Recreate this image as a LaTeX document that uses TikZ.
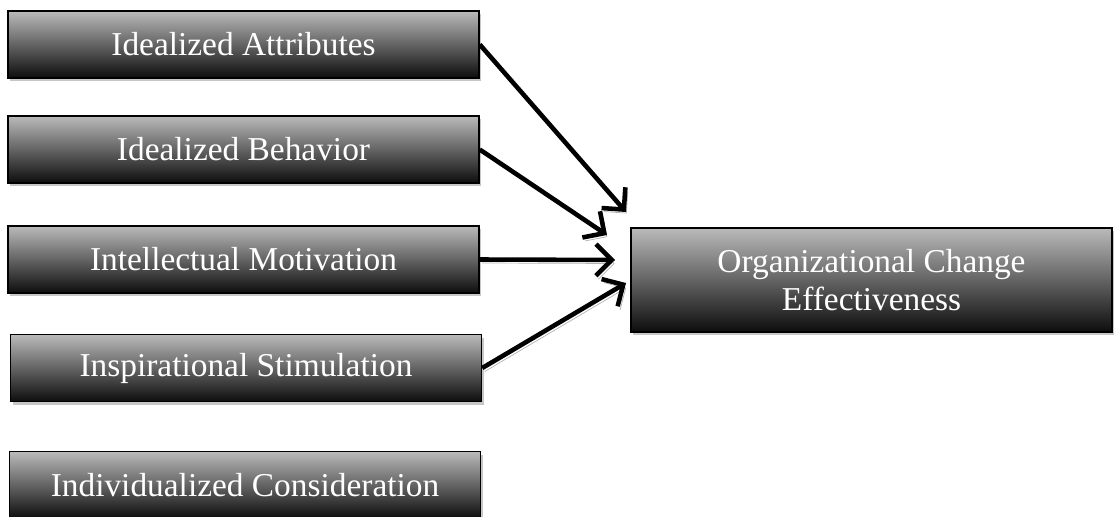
\documentclass[tikz,border=0pt]{standalone}
\usepackage{fontspec}
\setmainfont{Liberation Serif}
\usetikzlibrary{arrows.meta,shadows}

\begin{document}
\begin{tikzpicture}
		[x=0.02cm,y=-0.02cm,
		block/.style ={rectangle, draw=black, line width=0.9pt, top color=black!27, bottom color=black!95, text=white, font=\fontsize{19}{22}\selectfont, minimum width=9.42cm, minimum height=1.34cm, inner sep=0pt, drop shadow={shadow xshift=1.2pt, shadow yshift=-1.8pt, fill=black!22, opacity=1}},
		result/.style = {block, align=center, minimum width=9.62cm, minimum height=2.08cm},
		link/.style ={line width=2.6pt, -{Straight Barb[length=9pt,width=18pt,line width=2.6pt]}, preaction={draw=black!30, transform canvas={shift={(1.4pt,-2pt)}}}},
		]
		\useasboundingbox (0,0) rectangle (1119,517);

		\draw (243.5,44.5) node[block] (IA) {Idealized Attributes};
		\draw (243.5,149.5) node[block] (IB) {Idealized Behavior};
		\draw (243.5,259.5) node[block] (IM) {Intellectual Motivation};
		\draw (246,368) node[block] (IS) {Inspirational Stimulation};
		\draw (245,485) node[block] (IC) {Individualized Consideration};
		\draw (871.5,280) node[result] (OC) {Organizational Change\\Effectiveness};

		% arrow tips in front of the result box
		\coordinate (T1) at (626,212);
		\coordinate (T2) at (607,235);
		\coordinate (T3) at (615,260);
		\coordinate (T4) at (626,283);

		\draw[link] (IA.east) -- (T1);
		\draw[link] (IB.east) -- (T2);
		\draw[link] (IM.east) -- (T3);
		\draw[link] (IS.east) -- (T4);
	\end{tikzpicture}
\end{document}
